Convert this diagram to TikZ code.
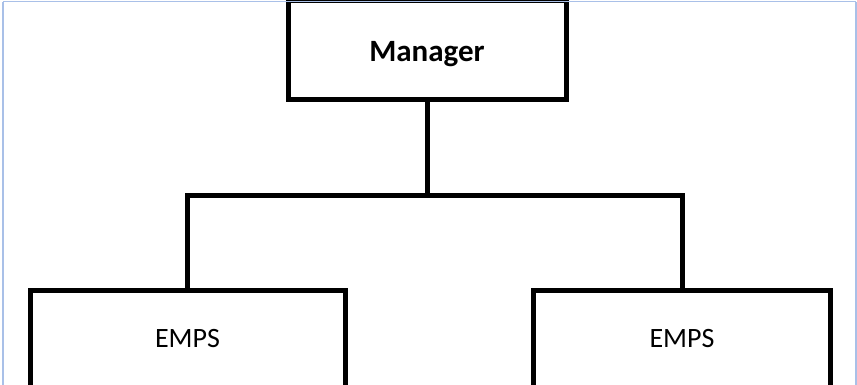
\documentclass[tikz,border=0pt]{standalone}
\usepackage{fontspec}
\setmainfont{Carlito}
\definecolor{frameblue}{HTML}{A9C0E8}
\begin{document}
\begin{tikzpicture}[x=1pt,y=-1pt,
  box/.style={draw=black, line width=5pt, fill=white, rectangle, inner sep=0pt, line join=miter},
  conn/.style={draw=black, line width=5pt, line join=miter},
  mgrtext/.style={font=\fontsize{31}{36}\selectfont\bfseries, text height=23pt, text depth=0pt},
  emptext/.style={font=\fontsize{28}{33}\selectfont, text height=18pt, text depth=0pt}]
\useasboundingbox (0,0) rectangle (857,385);
\clip (0,0) rectangle (857,385);
\fill[white] (0,0) rectangle (857,385);
\coordinate (bus) at (427,195);
\node[box, minimum width=278pt, minimum height=99pt, mgrtext] (mgr) at (427,50.5) {Manager};
\node[box, minimum width=315pt, minimum height=97pt, emptext] (left) at (187.5,338.5) {EMPS};
\node[box, minimum width=297.5pt, minimum height=97pt, emptext] (right) at (682,338.5) {EMPS};
\draw[conn] (mgr.south) -- (mgr.south |- bus);
\draw[conn] (left.north) |- (right.north |- bus) -- (right.north);
\draw[frameblue, line width=1pt] (3,2) -- (856,2);
\draw[frameblue, line width=2.2pt] (3,2) -- (3,385);
\draw[frameblue, line width=1.5pt] (856,2) -- (856,385);
\end{tikzpicture}
\end{document}
